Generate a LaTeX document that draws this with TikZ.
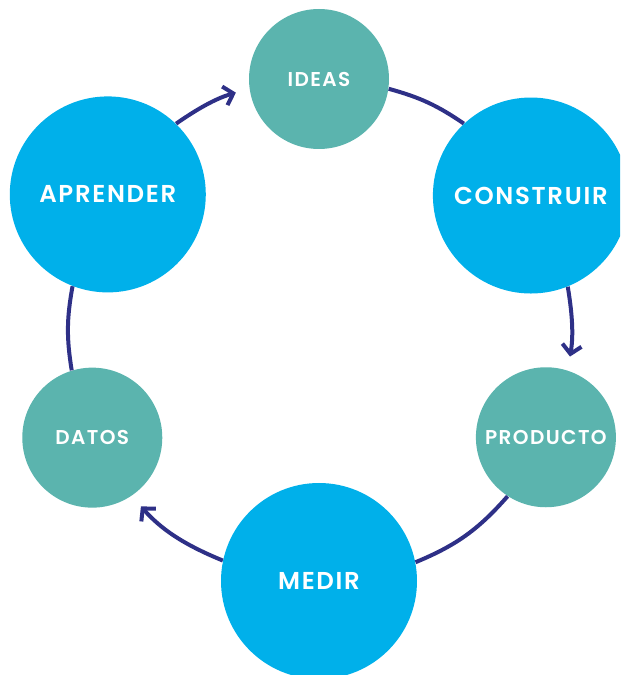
\documentclass[tikz,border=0pt]{standalone}
\usepackage{fontspec}
\setmainfont{Poppins}[BoldFont={Poppins SemiBold}, LetterSpace=7]
\usetikzlibrary{arrows.meta}

\definecolor{tealc}{HTML}{5BB4AE}
\definecolor{bluec}{HTML}{00B0EA}
\definecolor{navyc}{HTML}{2E3087}

\tikzset{
  small/.style={circle, fill=tealc, text=white, minimum size=2.8cm, inner sep=0pt,
    font=\fontsize{11.4}{12}\selectfont\bfseries},
  big/.style={circle, fill=bluec, text=white, minimum size=3.92cm, inner sep=0pt,
    font=\fontsize{13.9}{15}\selectfont\bfseries},
  ring/.style={draw=navyc, line width=0.08cm},
  tip/.style={-{Straight Barb[length=5pt,width=11pt]}, shorten >=0.28cm}
}

\begin{document}
\begin{tikzpicture}
  \clip (0,0) rectangle (12.4,13.5);
  \coordinate (c) at (6.38,6.9);

  %% cycle
  \node[small] (ideas)     at ([shift={(90:5.02)}]c)     {IDEAS};
  \node[big]   (construir) at ([shift={(32.4:5.02)}]c)   {CONSTRUIR};
  \node[small] (producto)  at ([shift={(-25.3:5.02)}]c)  {PRODUCTO};
  \node[big]   (medir)     at ([shift={(-90:5.02)}]c)    {MEDIR};
  \node[small] (datos)     at ([shift={(-154.6:5.02)}]c) {DATOS};
  \node[big]   (aprender)  at ([shift={(147.3:5.02)}]c)  {APRENDER};

  % arcs, from border to border along the ring
  \draw[ring,tip] (aprender.46.04) to[bend left=9.38] (ideas.188.02);
  \draw[ring] (ideas.-8.02) to[bend left=9.53] (construir.133.66);
  \draw[ring,tip] (construir.-68.86) to[bend left=9.58] (producto.72.72);
  \draw[ring] (producto.-123.32) to[bend left=13.08] (medir.11.26);
  \draw[ring,tip] (medir.168.74) to[bend left=13.03] (datos.-56.58);
  \draw[ring] (datos.107.38) to[bend left=9.78] (aprender.-111.44);
\end{tikzpicture}
\end{document}
